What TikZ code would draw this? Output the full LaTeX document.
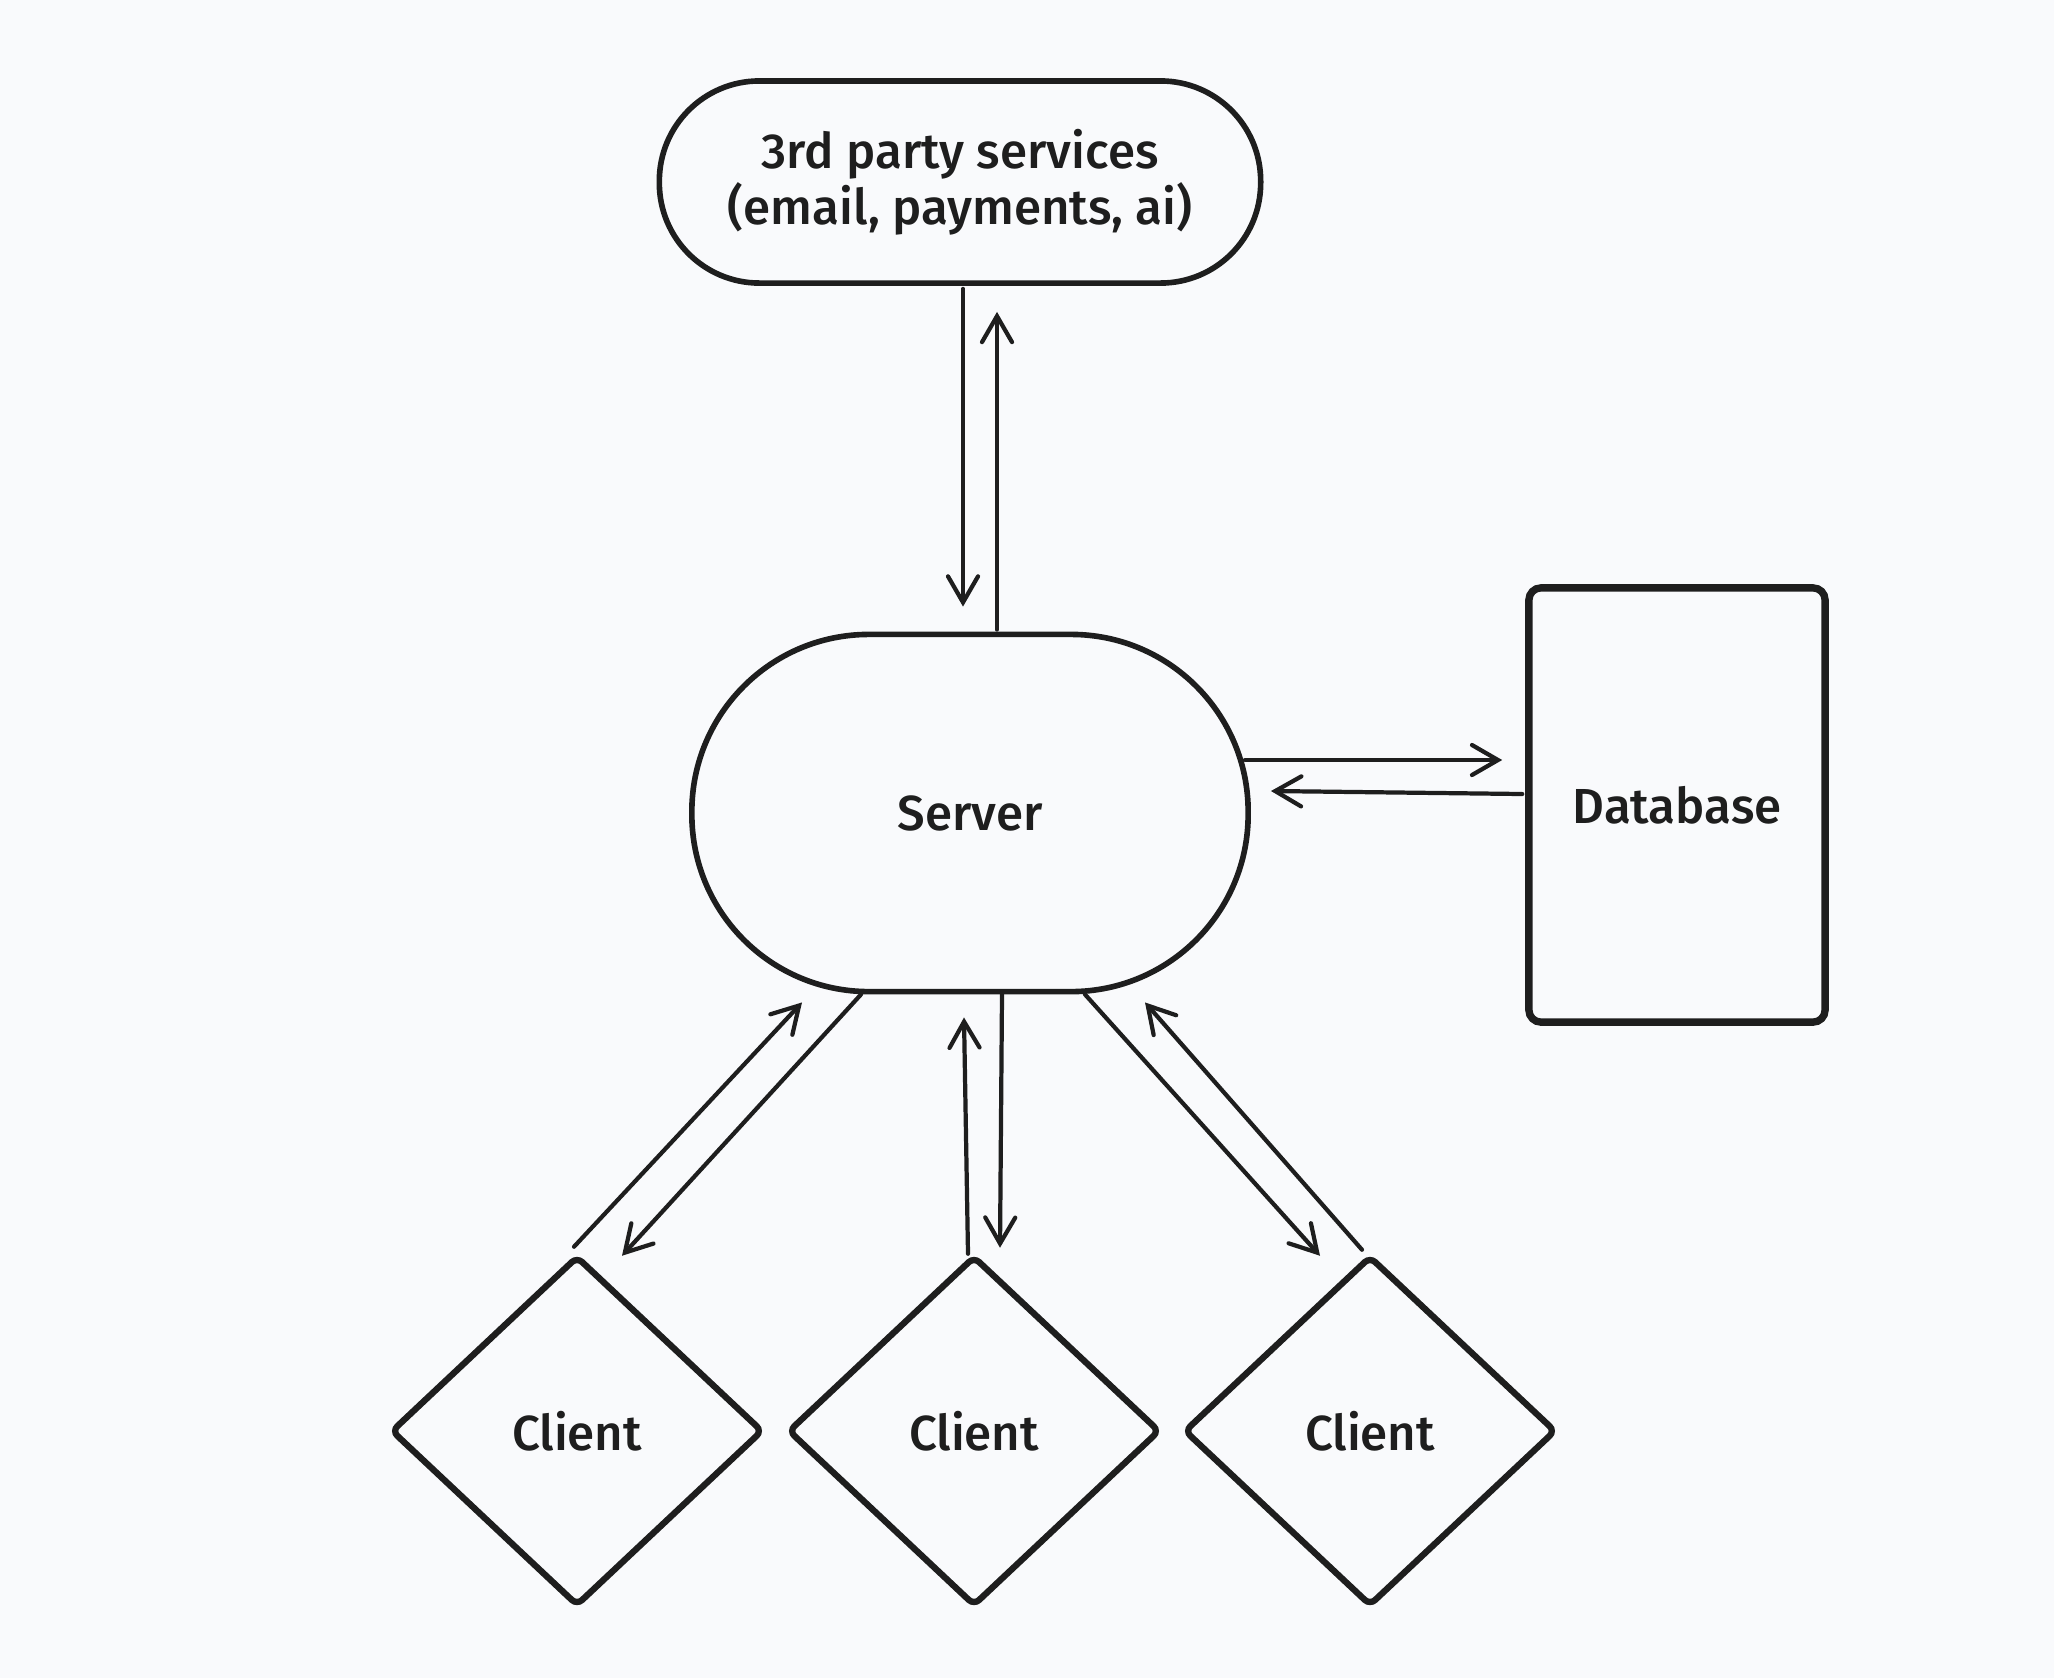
\documentclass[tikz,border=0pt]{standalone}
\usepackage{fontspec}
\setmainfont{Fira Sans}[BoldFont={Fira Sans Medium}]
\usepackage{xcolor}
\definecolor{ink}{RGB}{30,30,30}
\definecolor{paper}{RGB}{249,250,252}
\usetikzlibrary{shapes.geometric,arrows.meta,calc}

\begin{document}
\begin{tikzpicture}[x=0.01cm,y=-0.01cm,
        every node/.style={font=\fontsize{14}{16}\selectfont\bfseries, text=ink, align=center},
        pill/.style={draw=ink, line width=1.6pt, inner sep=0pt},
        dbbox/.style={draw=ink, line width=2.1pt, rounded corners=0.12cm, minimum width=2.96cm, minimum height=4.34cm},
        clientbox/.style={diamond, draw=ink, line width=1.8pt, rounded corners=2pt, minimum width=3.72cm, minimum height=3.5cm, inner sep=0pt},
        arr/.style={draw=ink, line width=1.2pt, line cap=round, -{Straight Barb[length=2.6mm,width=3mm,line cap=round]}}]
        \fill[paper] (0,0) rectangle (2054,1678);

        % boxes
        \node[pill, minimum width=6.01cm, minimum height=2.02cm, rounded corners=1cm] (svc) at (960,182) {3rd party services\\(email, payments, ai)};
        \node[pill, minimum width=5.56cm, minimum height=3.57cm, rounded corners=1.77cm] (srv) at (970,813) {Server};
        \node[dbbox] (db) at (1677,805) {Database};
        \node[clientbox] (c1) at (577,1431) {Client};
        \node[clientbox] (c2) at (974,1431) {Client};
        \node[clientbox] (c3) at (1370,1431) {Client};

        % services <-> server
        \draw[arr] ($(svc.south)+(3,3)$) -- ($(srv.north)+(-7,-25)$);
        \draw[arr] ($(srv.north)+(27,-2)$) -- ($(svc.south)+(37,26)$);
        % server <-> database
        \draw[arr] ($(srv.east)+(-6,-53)$) -- ($(db.west)+(-23,-45)$);
        \draw[arr] ($(db.west)+(-3,-11)$) -- ($(srv.east)+(20,-22)$);
        % server <-> clients
        \draw[arr] ($(c1.north)+(-3,-6)$) -- ($(srv.south)+(-168,8)$);
        \draw[arr] ($(srv.south)+(-109,0)$) -- ($(c1.north)+(45,3)$);
        \draw[arr] ($(c2.north)+(-6,1)$) -- ($(srv.south)+(-6,23)$);
        \draw[arr] ($(srv.south)+(32,0)$) -- ($(c2.north)+(26,-5)$);
        \draw[arr] ($(srv.south)+(115,0)$) -- ($(c3.north)+(-50,3)$);
        \draw[arr] ($(c3.north)+(-8,-3)$) -- ($(srv.south)+(175,8)$);
    \end{tikzpicture}
\end{document}
